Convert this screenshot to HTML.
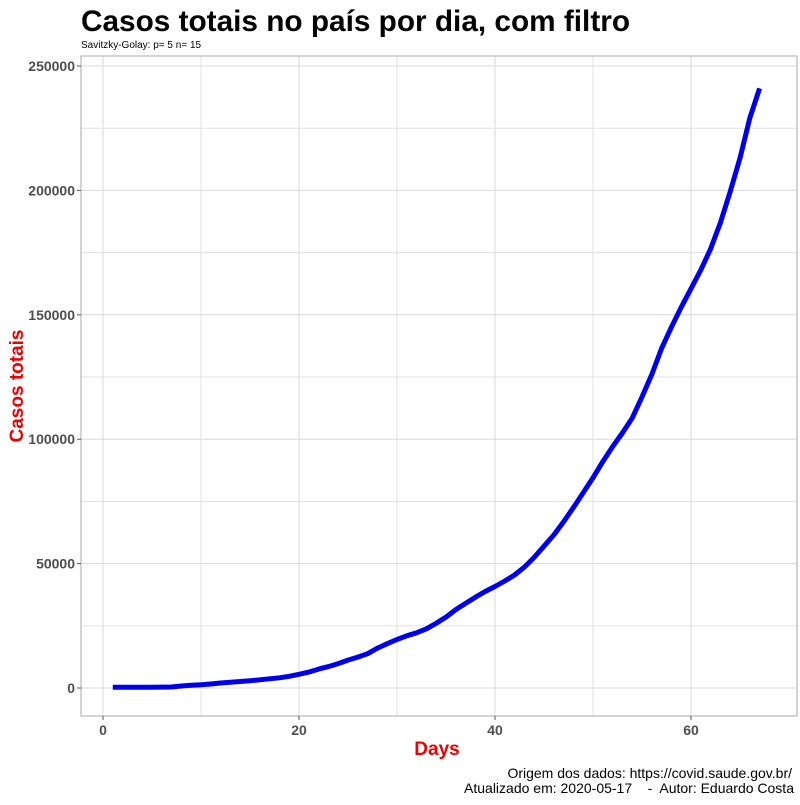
<!DOCTYPE html>
<html><head><meta charset="utf-8"><style>
body{margin:0;background:#fff;width:800px;height:800px;overflow:hidden;font-family:"Liberation Sans",sans-serif}
</style></head><body>
<svg id="chart" width="800" height="800">
<text x="81" y="31" font-size="30" font-weight="bold" fill="#000" textLength="549" lengthAdjust="spacingAndGlyphs">Casos totais no país por dia, com filtro</text>
<text x="81" y="48" font-size="10" fill="#000">Savitzky-Golay: p= 5 n= 15</text>
<g id="grid"></g>
<rect x="81" y="56" width="716" height="660" fill="none" stroke="#aaa" stroke-width="1"/>
<g id="axes"></g>
<path id="line" fill="none" stroke="#0000ee" stroke-width="5" stroke-linejoin="round"/>
<text x="437" y="755" text-anchor="middle" font-size="19" font-weight="bold" fill="#ee0000">Days</text>
<text transform="translate(23,386) rotate(-90)" text-anchor="middle" font-size="19" font-weight="bold" fill="#ee0000">Casos totais</text>
<text x="792" y="778" text-anchor="end" font-size="14" fill="#000">Origem dos dados: https://covid.saude.gov.br/</text>
<text x="794" y="793" text-anchor="end" font-size="14" fill="#000" xml:space="preserve">Atualizado em: 2020-05-17    -  Autor: Eduardo Costa</text>
</svg>
<script>
const days=[1,2,3,4,5,6,7,8,9,10,11,12,13,14,15,16,17,18,19,20,21,22,23,24,25,26,27,28,29,30,31,32,33,34,35,36,37,38,39,40,41,42,43,44,45,46,47,48,49,50,51,52,53,54,55,56,57,58,59,60,61,62,63,64,65,66,67];
const cases=[300,300,300,300,300,350,400,800,1100,1300,1600,2000,2300,2600,2900,3300,3700,4100,4700,5500,6400,7600,8600,9800,11200,12400,13800,16000,17800,19500,21000,22200,23800,26000,28500,31500,34000,36500,38800,40800,43000,45400,48600,52500,57000,61500,66800,72500,78500,84500,91000,97000,102500,108500,117000,126000,136500,145000,153000,160500,168000,176500,187000,199500,213000,229000,241000];
const xTicks=[0,20,40,60];
const yTicks=[0,50000,100000,150000,200000,250000];
const xMinor=[10,30,50];
const yMinor=[25000,75000,125000,175000,225000];
const NS="http://www.w3.org/2000/svg";
const X=d=>103+d*9.8;
const Y=v=>688-v*622/250000;
const grid=document.getElementById('grid'),axes=document.getElementById('axes');
function ln(p,x1,y1,x2,y2,c){const l=document.createElementNS(NS,'line');l.setAttribute('x1',x1);l.setAttribute('y1',y1);l.setAttribute('x2',x2);l.setAttribute('y2',y2);l.setAttribute('stroke',c);l.setAttribute('stroke-width',1);p.appendChild(l);return l;}
function tx(p,x,y,s,a){const t=document.createElementNS(NS,'text');t.setAttribute('x',x);t.setAttribute('y',y);t.setAttribute('text-anchor',a);t.setAttribute('font-size',14);t.setAttribute('font-weight','bold');t.setAttribute('fill','#4d4d4d');t.textContent=s;p.appendChild(t);return t;}
xMinor.forEach(d=>{const l=ln(grid,X(d),56,X(d),716,'#e0e0e0');

});
yMinor.forEach(v=>{const l=ln(grid,81,Y(v),797,Y(v),'#e0e0e0');

});
xTicks.forEach(d=>{const l=ln(grid,X(d),56,X(d),716,'#d9d9d9');


const k=ln(axes,X(d),716,X(d),720,'#555');


const t=tx(axes,X(d),735,String(d),'middle');

});
yTicks.forEach(v=>{const l=ln(grid,81,Y(v),797,Y(v),'#d9d9d9');


const k=ln(axes,77,Y(v),81,Y(v),'#555');


const t=tx(axes,75,Y(v)+5,String(v),'end');

});
document.getElementById('line').setAttribute('d',days.map((d,i)=>(i?'L':'M')+X(d).toFixed(1)+','+Y(cases[i]).toFixed(1)).join(''));
</script>
</body></html>
